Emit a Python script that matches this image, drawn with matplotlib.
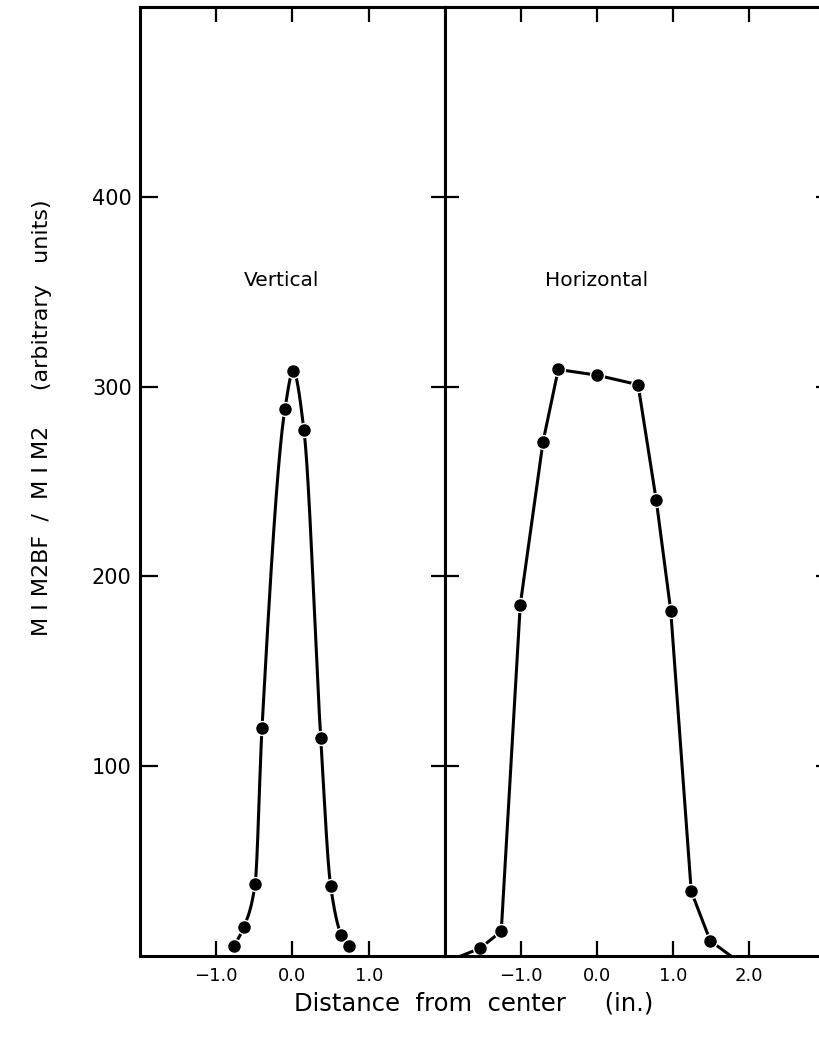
import numpy as np
import matplotlib
matplotlib.use("Agg")
import matplotlib.pyplot as plt

# values
vert_x = [-0.77, -0.64, -0.49, -0.40, -0.10, 0.01, 0.15, 0.37, 0.50, 0.64, 0.74]
vert_y = [5, 15, 38, 120, 288, 308, 277, 115, 37, 11, 5]

horiz_x = [-1.54, -1.26, -1.01, -0.71, -0.51, 0.00, 0.54, 0.78, 0.97, 1.24, 1.49]
horiz_y = [4, 13, 185, 271, 309, 306, 301, 240, 182, 34, 8]
# where the hand drawn line runs into the baseline
horiz_ends_x = [-1.79, 1.76]
horiz_ends_y = [0, 0]

y_ticks = [100, 200, 300, 400]
vert_ticks = [-1.0, 0.0, 1.0]
horiz_ticks = [-1.0, 0.0, 1.0, 2.0]


def pchip(x, y, n=600):
    # monotone cubic through the points, only used to draw a smooth line
    x = np.asarray(x, float)
    y = np.asarray(y, float)
    h = np.diff(x)
    d = np.diff(y) / h
    m = np.zeros_like(y)
    m[0] = d[0]
    m[-1] = d[-1]
    for k in range(1, len(x) - 1):
        if d[k - 1] * d[k] > 0:
            w1 = 2 * h[k] + h[k - 1]
            w2 = h[k] + 2 * h[k - 1]
            m[k] = (w1 + w2) / (w1 / d[k - 1] + w2 / d[k])
    xs = np.linspace(x[0], x[-1], n)
    idx = np.clip(np.searchsorted(x, xs) - 1, 0, len(h) - 1)
    t = (xs - x[idx]) / h[idx]
    h00 = 2 * t**3 - 3 * t**2 + 1
    h10 = t**3 - 2 * t**2 + t
    h01 = -2 * t**3 + 3 * t**2
    h11 = t**3 - t**2
    ys = h00 * y[idx] + h10 * h[idx] * m[idx] + h01 * y[idx + 1] + h11 * h[idx] * m[idx + 1]
    return xs, ys


plt.rcParams['font.family'] = ['DejaVu Sans']

fig = plt.figure(figsize=(8.2, 10.4), dpi=100)
ax1 = fig.add_axes([0.1707, 0.0808, 0.372, 0.9125])
ax2 = fig.add_axes([0.5427, 0.0808, 0.4634, 0.9125])

for ax in (ax1, ax2):
    ax.set_ylim(0, 500)
    ax.set_yticks(y_ticks)
    for s in ax.spines.values():
        s.set_linewidth(2.2)
    ax.tick_params(direction='in', length=11, width=1.6, top=True, right=True,
                   labelsize=13, pad=8)
    ax.tick_params(axis='y', length=13, pad=6, labelsize=15)

# vertical scan
ax1.set_xlim(-2, 2)
ax1.set_xticks(vert_ticks)
ax1.set_xticklabels(['\u22121.0', '0.0', '1.0'])
ax1.tick_params(axis='y', right=False)
cx, cy = pchip(vert_x, vert_y)
ax1.plot(cx, cy, color='black', lw=2.2)
ax1.plot(vert_x, vert_y, 'o', color='black', ms=10, mec='white', mew=1.0)
ax1.text(-0.15, 356, 'Vertical', fontsize=14.5, ha='center', va='center')

# horizontal scan, drawn as straight segments like the original
ax2.set_xlim(-2, 3)
ax2.set_xticks(horiz_ticks)
ax2.set_xticklabels(['\u22121.0', '0.0', '1.0', '2.0'])
ax2.tick_params(axis='y', labelleft=False)
lx = [horiz_ends_x[0]] + horiz_x + [horiz_ends_x[1]]
ly = [horiz_ends_y[0]] + horiz_y + [horiz_ends_y[1]]
ax2.plot(lx, ly, color='black', lw=2.2, solid_joinstyle='round')
ax2.plot(horiz_x, horiz_y, 'o', color='black', ms=10, mec='white', mew=1.0)
ax2.text(0.0, 356, 'Horizontal', fontsize=14.5, ha='center', va='center')

# divider ticks stick out on both sides
ax2.tick_params(axis='y', which='major', left=True, direction='inout', length=20)
ax2.yaxis.set_tick_params(which='major', right=True)
for t in ax2.yaxis.get_major_ticks():
    t.tick2line.set_markersize(13)

fig.text(42 / 820, 1 - 418 / 1040, 'M I M2BF  /  M I M2     (arbitrary   units)',
         fontsize=16, rotation=90, ha='center', va='center')
fig.text(474 / 820, 1 - 1003 / 1040, 'Distance  from  center     (in.)',
         fontsize=17.5, ha='center', va='center')

fig.savefig('out.png', dpi=100)
